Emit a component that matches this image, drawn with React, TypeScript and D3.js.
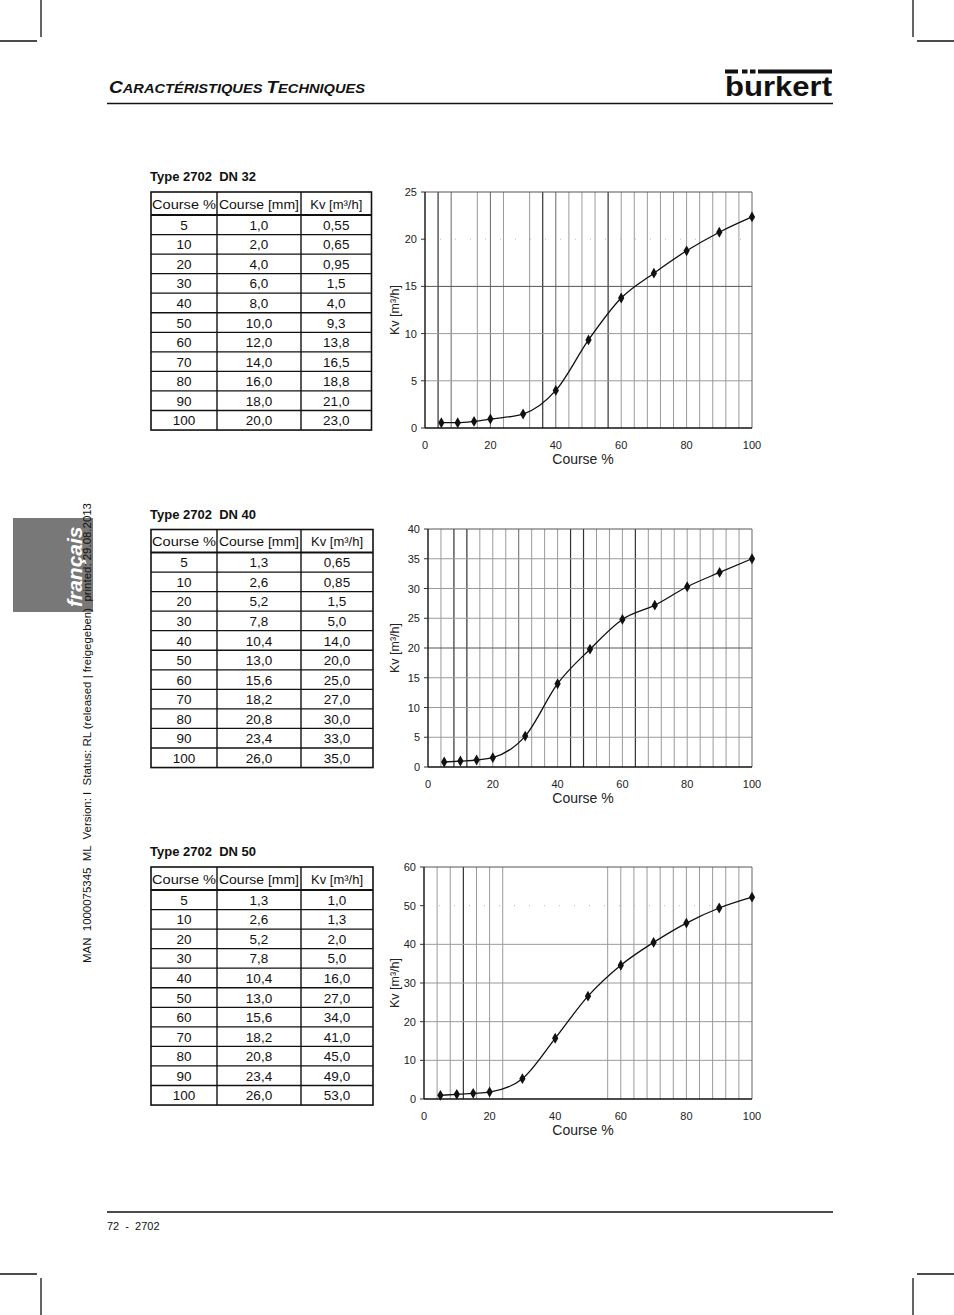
import React from "react";
import * as d3 from "d3";

// ---------- data ----------
const tablePct = [5, 10, 20, 30, 40, 50, 60, 70, 80, 90, 100];
const dn32Mm = [1.0, 2.0, 4.0, 6.0, 8.0, 10.0, 12.0, 14.0, 16.0, 18.0, 20.0];
const dn32Kv = [0.55, 0.65, 0.95, 1.5, 4.0, 9.3, 13.8, 16.5, 18.8, 21.0, 23.0];
const dn40Mm = [1.3, 2.6, 5.2, 7.8, 10.4, 13.0, 15.6, 18.2, 20.8, 23.4, 26.0];
const dn40Kv = [0.65, 0.85, 1.5, 5.0, 14.0, 20.0, 25.0, 27.0, 30.0, 33.0, 35.0];
const dn50Mm = [1.3, 2.6, 5.2, 7.8, 10.4, 13.0, 15.6, 18.2, 20.8, 23.4, 26.0];
const dn50Kv = [1.0, 1.3, 2.0, 5.0, 16.0, 27.0, 34.0, 41.0, 45.0, 49.0, 53.0];

// plotted points
const curvePct = [5, 10, 15, 20, 30, 40, 50, 60, 70, 80, 90, 100];
const dn32Curve = [0.56, 0.56, 0.7, 0.95, 1.48, 3.98, 9.33, 13.77, 16.4, 18.77, 20.74, 22.36];
const dn40Curve = [0.84, 1.0, 1.18, 1.57, 5.2, 14.0, 19.8, 24.8, 27.2, 30.3, 32.7, 35.0];
const dn50Curve = [0.95, 1.2, 1.47, 1.8, 5.26, 15.7, 26.6, 34.6, 40.5, 45.5, 49.4, 52.2];

const xTicks = [0, 20, 40, 60, 80, 100];
const tableHeaders = ["Course %", "Course [mm]", "Kv [m³/h]"];
const sideNote =
  "MAN  1000075345  ML  Version: I  Status: RL (released | freigegeben)  printed: 29.08.2013";

const FONT = "'Liberation Sans', Arial, Helvetica, sans-serif";

const fmt1 = (v: number) => v.toFixed(1).replace(".", ",");
const fmtKv = (v: number) => {
  const t = v * 10;
  return (Math.abs(t - Math.round(t)) < 1e-6 ? v.toFixed(1) : v.toFixed(2)).replace(".", ",");
};

type TableProps = { title: string; top: number; right: number; mm: number[]; kv: number[] };

function DataTable({ title, top, right, mm, kv }: TableProps) {
  const left = 151;
  const c1 = 217;
  const c2 = 301;
  const headerH = 23;
  const rowH = 19.55;
  const bottom = top + headerH + rowH * tablePct.length;
  const centers = [184, 259, (c2 + right) / 2];
  return (
    <g fontFamily={FONT}>
      <text x={150} y={top - 11} fontSize={13} fontWeight="bold" fill="#111" style={{ whiteSpace: "pre" }}>
        {title}
      </text>
      <rect x={left} y={top} width={right - left} height={bottom - top} fill="none" stroke="#111" strokeWidth={1.6} />
      <line x1={c1} x2={c1} y1={top} y2={bottom} stroke="#111" strokeWidth={1.4} />
      <line x1={c2} x2={c2} y1={top} y2={bottom} stroke="#111" strokeWidth={1.4} />
      {tablePct.map((_, i) => (
        <line
          key={i}
          x1={left}
          x2={right}
          y1={top + headerH + rowH * i}
          y2={top + headerH + rowH * i}
          stroke="#111"
          strokeWidth={i === 0 ? 1.8 : 1.3}
        />
      ))}
      <text x={left + 1} y={top + 16.5} fontSize={13} fill="#111" textLength={c1 - left - 2} lengthAdjust="spacingAndGlyphs">
        {tableHeaders[0]}
      </text>
      <text x={c1 + 2} y={top + 16.5} fontSize={13} fill="#111" textLength={c2 - c1 - 4} lengthAdjust="spacingAndGlyphs">
        {tableHeaders[1]}
      </text>
      <text x={centers[2]} y={top + 16.5} fontSize={13} fill="#111" textAnchor="middle">
        {tableHeaders[2]}
      </text>
      {tablePct.map((p, i) => {
        const y = top + headerH + rowH * i + 14.8;
        return (
          <g key={p} fontSize={13.5} fill="#111" textAnchor="middle">
            <text x={centers[0]} y={y}>{p}</text>
            <text x={centers[1]} y={y}>{fmt1(mm[i])}</text>
            <text x={centers[2]} y={y}>{fmtKv(kv[i])}</text>
          </g>
        );
      })}
    </g>
  );
}

type ChartProps = {
  left: number;
  right: number;
  top: number;
  bottom: number;
  yMax: number;
  yStep: number;
  values: number[];
  darkV: number[];
  mediumV: number[];
  missingV: number[];
  faintH: number[];
  darkH: number[];
};

function KvChart(p: ChartProps) {
  const x = d3.scaleLinear().domain([0, 100]).range([p.left, p.right]);
  const y = d3.scaleLinear().domain([0, p.yMax]).range([p.bottom, p.top]);
  const vLines = d3.range(4, 100, 4).filter((v) => !p.missingV.includes(v));
  const yTicks = d3.range(0, p.yMax + 0.001, p.yStep);
  const pts: [number, number][] = curvePct.map((c, i) => [c, p.values[i]]);
  const line = d3
    .line<[number, number]>()
    .x((d) => x(d[0]))
    .y((d) => y(d[1]))
    .curve(d3.curveMonotoneX);
  const marker = d3.symbol().type(d3.symbolDiamond).size(34)() as string;
  const cy = (p.top + p.bottom) / 2;
  return (
    <g fontFamily={FONT}>
      {vLines.map((v) => {
        const dark = p.darkV.includes(v);
        const med = p.mediumV.includes(v);
        return (
          <line
            key={"v" + v}
            x1={x(v)}
            x2={x(v)}
            y1={p.top}
            y2={p.bottom}
            stroke={dark ? "#333" : med ? "#666" : "#9a9a9a"}
            strokeWidth={dark ? 1.2 : 1}
          />
        );
      })}
      {yTicks.slice(1, -1).map((t) => {
        const faint = p.faintH.includes(t);
        const dark = p.darkH.includes(t);
        return (
          <line
            key={"h" + t}
            x1={p.left}
            x2={p.right}
            y1={y(t)}
            y2={y(t)}
            stroke={faint ? "#bbb" : dark ? "#555" : "#9a9a9a"}
            strokeWidth={1}
            strokeDasharray={faint ? "1 14" : undefined}
          />
        );
      })}
      <line x1={p.left} x2={p.right} y1={p.top} y2={p.top} stroke="#555" strokeWidth={1} />
      <line x1={p.right} x2={p.right} y1={p.top} y2={p.bottom} stroke="#666" strokeWidth={1} />
      <line x1={p.left} x2={p.left} y1={p.top} y2={p.bottom} stroke="#111" strokeWidth={1.4} />
      <line x1={p.left} x2={p.right} y1={p.bottom} y2={p.bottom} stroke="#111" strokeWidth={1.4} />
      {yTicks.map((t) => (
        <g key={"yt" + t}>
          <line x1={p.left - 4} x2={p.left} y1={y(t)} y2={y(t)} stroke="#333" strokeWidth={1} />
          <text x={p.left - 8} y={y(t) + 4} fontSize={11} textAnchor="end" fill="#222">
            {t}
          </text>
        </g>
      ))}
      {xTicks.map((t) => (
        <text key={"xt" + t} x={x(t)} y={p.bottom + 21} fontSize={11} textAnchor="middle" fill="#222">
          {t}
        </text>
      ))}
      <text x={583} y={p.bottom + 35.5} fontSize={14} textAnchor="middle" fill="#222">
        Course %
      </text>
      <text
        transform={`translate(399,${cy}) rotate(-90)`}
        fontSize={12.5}
        textAnchor="middle"
        fill="#222"
      >
        Kv [m³/h]
      </text>
      <path d={line(pts) as string} fill="none" stroke="#111" strokeWidth={1.3} />
      {pts.map((d) => (
        <path key={"m" + d[0]} d={marker} transform={`translate(${x(d[0])},${y(d[1])})`} fill="#111" />
      ))}
    </g>
  );
}

function CropMarks() {
  const s = { stroke: "#111", strokeWidth: 1.3 };
  return (
    <g>
      <line x1={41} x2={41} y1={0} y2={37} {...s} />
      <line x1={0} x2={37} y1={41} y2={41} {...s} />
      <line x1={913} x2={913} y1={0} y2={37} {...s} />
      <line x1={917} x2={954} y1={41} y2={41} {...s} />
      <line x1={41} x2={41} y1={1278} y2={1315} {...s} />
      <line x1={0} x2={37} y1={1274} y2={1274} {...s} />
      <line x1={913} x2={913} y1={1278} y2={1315} {...s} />
      <line x1={917} x2={954} y1={1274} y2={1274} {...s} />
    </g>
  );
}

export default function App() {
  return (
    <svg
      width={954}
      height={1315}
      viewBox="0 0 954 1315"
      style={{ position: "absolute", left: 0, top: 0, background: "#fff" }}
    >
      <rect x={0} y={0} width={954} height={1315} fill="#fff" />
      <CropMarks />
      {/* header */}
      <text
        x={109}
        y={93}
        fontFamily={FONT}
        fontWeight="bold"
        fontStyle="italic"
        fill="#111"
        textLength={256}
        lengthAdjust="spacingAndGlyphs"
        style={{ whiteSpace: "pre" }}
      >
        <tspan fontSize={17}>C</tspan>
        <tspan fontSize={13}>ARACTÉRISTIQUES </tspan>
        <tspan fontSize={17}>T</tspan>
        <tspan fontSize={13}>ECHNIQUES</tspan>
      </text>
      <line x1={107} x2={833} y1={103.5} y2={103.5} stroke="#111" strokeWidth={1.4} />
      {/* logo */}
      <g fill="#111">
        <rect x={725} y={69.5} width={13} height={4} />
        <rect x={742} y={69.5} width={5.5} height={4} />
        <rect x={750} y={69.5} width={5.5} height={4} />
        <rect x={758} y={69.5} width={74} height={4} />
        <text
          x={725}
          y={96}
          fontFamily={FONT}
          fontWeight="bold"
          fontSize={28}
          textLength={107}
          lengthAdjust="spacingAndGlyphs"
        >
          burkert
        </text>
      </g>
      {/* side tab */}
      <rect x={13} y={518} width={80} height={94} fill="#787878" />
      <text
        transform="translate(82,607) rotate(-90)"
        fontFamily={FONT}
        fontWeight="bold"
        fontStyle="italic"
        fontSize={21}
        fill="#fff"
      >
        français
      </text>
      <text
        transform="translate(91,963) rotate(-90)"
        fontFamily={FONT}
        fontSize={11}
        fill="#111"
        textLength={460}
        lengthAdjust="spacingAndGlyphs"
        style={{ whiteSpace: "pre" }}
      >
        {sideNote}
      </text>

      {/* block 1 */}
      <DataTable title="Type 2702  DN 32" top={192} right={371.5} mm={dn32Mm} kv={dn32Kv} />
      <KvChart
        left={425}
        right={752}
        top={192}
        bottom={428}
        yMax={25}
        yStep={5}
        values={dn32Curve}
        darkV={[4, 36, 56]}
        mediumV={[8, 20, 40]}
        missingV={[12, 28]}
        faintH={[20]}
        darkH={[15]}
      />
      {/* block 2 */}
      <DataTable title="Type 2702  DN 40" top={529.5} right={373} mm={dn40Mm} kv={dn40Kv} />
      <KvChart
        left={428}
        right={752}
        top={529}
        bottom={767}
        yMax={40}
        yStep={5}
        values={dn40Curve}
        darkV={[8, 12, 44, 48, 64]}
        mediumV={[28]}
        missingV={[]}
        faintH={[]}
        darkH={[20]}
      />
      {/* block 3 */}
      <DataTable title="Type 2702  DN 50" top={867} right={373} mm={dn50Mm} kv={dn50Kv} />
      <KvChart
        left={424}
        right={752}
        top={867}
        bottom={1099}
        yMax={60}
        yStep={10}
        values={dn50Curve}
        darkV={[12]}
        mediumV={[]}
        missingV={[28, 32, 36, 40, 44, 48, 52]}
        faintH={[50]}
        darkH={[]}
      />

      {/* footer */}
      <line x1={107} x2={833} y1={1212} y2={1212} stroke="#111" strokeWidth={1.3} />
      <text x={107} y={1230} fontFamily={FONT} fontSize={11} fill="#111" style={{ whiteSpace: "pre" }}>
        72  -  2702
      </text>
    </svg>
  );
}
